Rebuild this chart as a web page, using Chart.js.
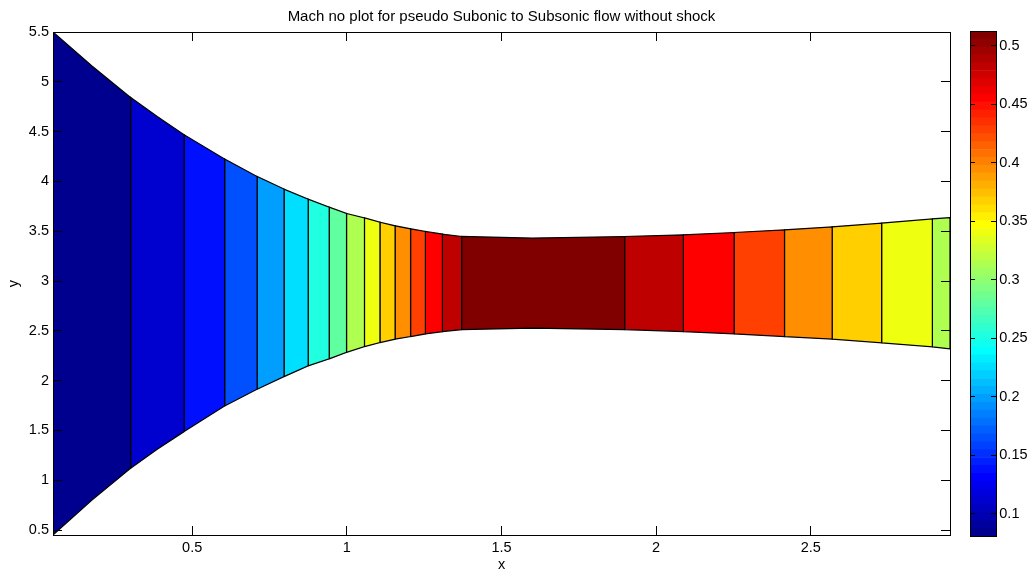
<!DOCTYPE html>
<html>
<head>
    <title>Mach no plot</title>
    <script src="https://cdn.jsdelivr.net/npm/chart.js"></script>
    <style>
        body {
            margin: 0;
            background: #ffffff;
        }
        #machChart {
            position: absolute;
            left: 0;
            top: 0;
        }
        #colorBar {
            position: absolute;
            left: 960px;
            top: 0;
        }
    </style>
</head>
<body>

    <canvas id="machChart" width="960" height="577"></canvas>
    <canvas id="colorBar" width="72" height="577"></canvas>

    <script>
        // Nozzle walls: x stations with upper and lower wall heights
        const wallX      = [0.05, 0.175, 0.301, 0.387, 0.474, 0.605, 0.710, 0.797, 0.875, 0.943, 0.999, 1.057, 1.107, 1.156, 1.206, 1.254, 1.309, 1.371, 1.600, 1.898, 2.088, 2.252, 2.415, 2.569, 2.729, 2.893, 2.95];
        const wallTop    = [5.500, 5.162, 4.843, 4.652, 4.468, 4.224, 4.049, 3.923, 3.822, 3.742, 3.678, 3.634, 3.591, 3.554, 3.524, 3.497, 3.471, 3.447, 3.431, 3.447, 3.464, 3.487, 3.514, 3.544, 3.581, 3.624, 3.637];
        const wallBottom = [0.450, 0.798, 1.120, 1.310, 1.488, 1.746, 1.914, 2.040, 2.148, 2.218, 2.283, 2.341, 2.382, 2.416, 2.442, 2.469, 2.492, 2.512, 2.526, 2.512, 2.492, 2.469, 2.442, 2.416, 2.379, 2.338, 2.318];

        // Contour lines (Mach only varies along x) and the Mach level of each band
        const bandEdges = [0.05, 0.301, 0.474, 0.605, 0.710, 0.797, 0.875, 0.943, 0.999, 1.057, 1.107, 1.156, 1.206, 1.254, 1.309, 1.371, 1.898, 2.088, 2.252, 2.415, 2.569, 2.729, 2.893, 2.95];
        const bandMach  = [0.081, 0.109, 0.138, 0.167, 0.196, 0.225, 0.254, 0.282, 0.311, 0.340, 0.369, 0.397, 0.426, 0.455, 0.484, 0.513, 0.484, 0.455, 0.426, 0.397, 0.369, 0.340, 0.311];

        // Tick positions
        const xTicks = [0.5, 1, 1.5, 2, 2.5];
        const yTicks = [0.5, 1, 1.5, 2, 2.5, 3, 3.5, 4, 4.5, 5, 5.5];
        const barTicks = [0.1, 0.15, 0.2, 0.25, 0.3, 0.35, 0.4, 0.45, 0.5];

        // Colour limits of the colorbar
        const machMin = 0.0806;
        const machMax = 0.5128;

        Chart.defaults.font.family = "'Liberation Sans', Arial, sans-serif";
        Chart.defaults.font.size = 14.5;
        Chart.defaults.color = '#000';

        // jet colormap with 64 entries, k = 0..63
        function jetColor(k) {
            const t = (k + 1) / 64;
            const c = (v) => Math.round(255 * Math.min(1, Math.max(0, v)));
            const r = c(1.5 - Math.abs(4 * t - 3));
            const g = c(1.5 - Math.abs(4 * t - 2));
            const b = c(1.5 - Math.abs(4 * t - 1));
            return `rgb(${r},${g},${b})`;
        }

        function machColor(m) {
            let k = Math.floor((m - machMin) / (machMax - machMin) * 64);
            k = Math.min(63, Math.max(0, k));
            return jetColor(k);
        }

        const fmt = (v) => String(+Number(v).toFixed(3));
        const setTicks = (list) => (axis) => { axis.ticks = list.map(v => ({ value: v })); };

        // inward tick marks drawn above the filled bands
        function inTicks(len) {
            return { drawOnChartArea: false, drawTicks: true, tickLength: -len, tickColor: '#000', tickWidth: 1, z: 1 };
        }
        const axisBorder = { display: true, color: '#000', width: 1, z: 1 };

        // One closed polygon per band: along the lower wall, then back along the upper wall
        const bandSets = bandMach.map((m, i) => {
            const x0 = bandEdges[i];
            const x1 = bandEdges[i + 1];
            const idx = wallX.map((x, j) => j).filter(j => wallX[j] >= x0 && wallX[j] <= x1);
            const pts = idx.map(j => ({ x: wallX[j], y: wallBottom[j] }))
                .concat(idx.slice().reverse().map(j => ({ x: wallX[j], y: wallTop[j] })));
            pts.push(pts[0]);
            return {
                data: pts,
                backgroundColor: machColor(m),
                borderColor: '#000',
                borderWidth: 1.2,
                fill: 'shape',
                pointRadius: 0,
                pointHitRadius: 0,
                tension: 0
            };
        });

        new Chart(document.getElementById('machChart'), {
            type: 'line',
            data: { datasets: bandSets },
            options: {
                responsive: false,
                animation: false,
                events: [],
                layout: { padding: { left: 0, right: 10, top: 0, bottom: 0 } },
                plugins: {
                    legend: { display: false },
                    tooltip: { enabled: false },
                    title: {
                        display: true,
                        fullSize: false,
                        text: 'Mach no plot for pseudo Subonic to Subsonic flow without shock',
                        font: { size: 15, weight: 'normal' },
                        color: '#000',
                        padding: { top: 8, bottom: 6 }
                    }
                },
                scales: {
                    x: {
                        type: 'linear',
                        position: 'bottom',
                        min: 0.05,
                        max: 2.95,
                        grid: inTicks(9),
                        border: axisBorder,
                        ticks: { padding: 13, callback: fmt },
                        afterBuildTicks: setTicks(xTicks),
                        title: { display: true, text: 'x', padding: { top: 0, bottom: 3 } },
                        afterFit: (s) => { s.height = 42; }
                    },
                    xTop: {
                        type: 'linear',
                        position: 'top',
                        min: 0.05,
                        max: 2.95,
                        grid: inTicks(9),
                        border: axisBorder,
                        ticks: { display: false },
                        afterBuildTicks: setTicks(xTicks),
                        afterFit: (s) => { s.height = 0; }
                    },
                    y: {
                        type: 'linear',
                        position: 'left',
                        min: 0.45,
                        max: 5.5,
                        grid: inTicks(9),
                        border: axisBorder,
                        ticks: { padding: 13, callback: fmt },
                        afterBuildTicks: setTicks(yTicks),
                        title: { display: true, text: 'y', padding: { top: 5.6, bottom: 0 } },
                        afterFit: (s) => { s.width = 53; }
                    },
                    yRight: {
                        type: 'linear',
                        position: 'right',
                        min: 0.45,
                        max: 5.5,
                        grid: inTicks(9),
                        border: axisBorder,
                        ticks: { display: false },
                        afterBuildTicks: setTicks(yTicks),
                        afterFit: (s) => { s.width = 0; }
                    }
                }
            }
        });

        // Colorbar: the 64 jet steps stacked between machMin and machMax
        const barSteps = Array.from({ length: 64 }, (_, k) => k);
        const stepSize = (machMax - machMin) / 64;

        new Chart(document.getElementById('colorBar'), {
            type: 'bar',
            data: {
                labels: [''],
                datasets: barSteps.map(k => ({
                    data: [[machMin + k * stepSize, machMin + (k + 1) * stepSize]],
                    backgroundColor: jetColor(k),
                    borderWidth: 0,
                    barPercentage: 1,
                    categoryPercentage: 1,
                    grouped: false
                }))
            },
            options: {
                responsive: false,
                animation: false,
                events: [],
                layout: { padding: { left: 10, right: 0, top: 31, bottom: 40.5 } },
                plugins: {
                    legend: { display: false },
                    tooltip: { enabled: false }
                },
                scales: {
                    x: {
                        position: 'bottom',
                        grid: { display: false },
                        border: axisBorder,
                        ticks: { display: false },
                        afterFit: (s) => { s.height = 0; }
                    },
                    xTop: {
                        type: 'category',
                        labels: [''],
                        position: 'top',
                        grid: { display: false },
                        border: axisBorder,
                        ticks: { display: false },
                        afterFit: (s) => { s.height = 0; }
                    },
                    y: {
                        type: 'linear',
                        position: 'right',
                        min: machMin,
                        max: machMax,
                        grid: inTicks(5),
                        border: axisBorder,
                        ticks: { padding: 8.3, callback: fmt },
                        afterBuildTicks: setTicks(barTicks),
                        afterFit: (s) => { s.width = 36; }
                    },
                    yLeft: {
                        type: 'linear',
                        position: 'left',
                        min: machMin,
                        max: machMax,
                        grid: inTicks(5),
                        border: axisBorder,
                        ticks: { display: false },
                        afterBuildTicks: setTicks(barTicks),
                        afterFit: (s) => { s.width = 0; }
                    }
                }
            }
        });
    </script>
</body>
</html>
